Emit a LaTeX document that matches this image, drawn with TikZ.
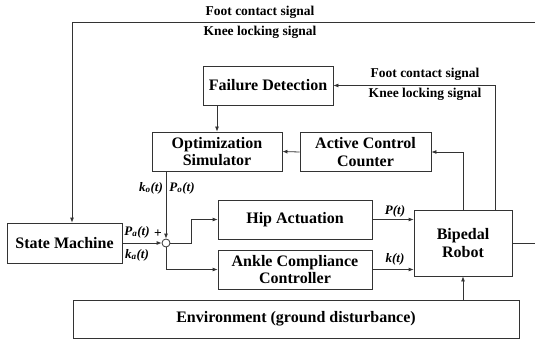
\documentclass[tikz,border=0pt]{standalone}
\usepackage{fontspec}
\setmainfont{Liberation Serif}
\usetikzlibrary{arrows.meta,calc}
\tikzset{
  blk/.style={draw=black!80, line width=0.8pt, minimum height=39pt, inner sep=1pt, align=center, font=\fontsize{16}{17.5}\selectfont\bfseries},
  arr/.style={draw=black!80, line width=0.8pt, -{Latex[length=5pt,width=4pt]}},
  ln/.style={draw=black!80, line width=0.8pt},
  lbl/.style={font=\fontsize{13.5}{14}\selectfont\bfseries, inner sep=0pt},
  sig/.style={font=\fontsize{13}{14}\selectfont\bfseries\itshape, inner sep=0pt}
}
\begin{document}
\begin{tikzpicture}[x=1pt,y=-1pt]
\useasboundingbox (0,0) rectangle (535,339);
\node[blk, minimum width=130pt] (fd) at (268,85.5) {Failure Detection};
\node[blk, minimum width=130pt] (os) at (217,151.5) {Optimization\\Simulator};
\node[blk, minimum width=131pt] (acc) at (365.5,152) {Active Control\\Counter};
\node[blk, minimum width=115pt, minimum height=40pt] (sm) at (64.5,243) {State Machine};
\node[blk, minimum width=154pt] (hip) at (295,219.5) {Hip Actuation};
\node[blk, minimum width=154pt] (ank) at (295,269.5) {Ankle Compliance\\Controller};
\node[blk, minimum width=98pt, minimum height=66pt] (rob) at (463,243) {Bipedal\\Robot};
\node[blk, minimum width=446pt, minimum height=38pt] (env) at (296,319) {Environment (ground disturbance)};
\node[draw=black!80, line width=0.8pt, circle, minimum size=8pt, inner sep=0pt, fill=white] (sum) at (166,243) {};
\coordinate (tr) at (535.5,22);
\coordinate (tl) at (72,22);
\coordinate (rf) at (495,210);
% connectors
\draw[arr] (os.north |- fd.south) -- (os.north);
\draw[arr] (rf) |- (fd.east);
\draw[arr] (rob.north) |- (acc.east);
\draw[arr] (acc.west) -- (os.east);
\draw[arr] (os.south -| sum) -- (sum.north);
\draw[arr] (sm.east) -- (sum.west);
\draw[arr] (sum.east) -- ++(21,0) |- (hip.west);
\draw[arr] (sum.south) |- (ank.west);
\draw[arr] (hip.east) -- (hip.east -| rob.west);
\draw[arr] (ank.east) -- (ank.east -| rob.west);
\draw[arr] (env.north -| rob) -- (rob.south);
\draw[arr] (rob.east) -| (tr) -- (tl) -- (tl |- sm.north);
% labels
\node[lbl] (t1) at (260,12) {Foot contact signal};
\node[lbl] (t2) at (260,32) {Knee locking signal};
\node[lbl] (t3) at (425,74) {Foot contact signal};
\node[lbl] (t4) at (425,94) {Knee locking signal};
\node[sig] (ko) at (151,188) {k\textsubscript{o}(t)};
\node[sig] (po) at (182,188) {P\textsubscript{o}(t)};
\node[sig] (pa) at (137,232) {P\textsubscript{a}(t)};
\node[sig] (ka) at (137,255) {k\textsubscript{a}(t)};
\node[lbl] (plus) at (158,234) {+};
\node[sig] (pt) at (395,211) {P(t)};
\node[sig] (kt) at (395,259) {k(t)};
\end{tikzpicture}
\end{document}
